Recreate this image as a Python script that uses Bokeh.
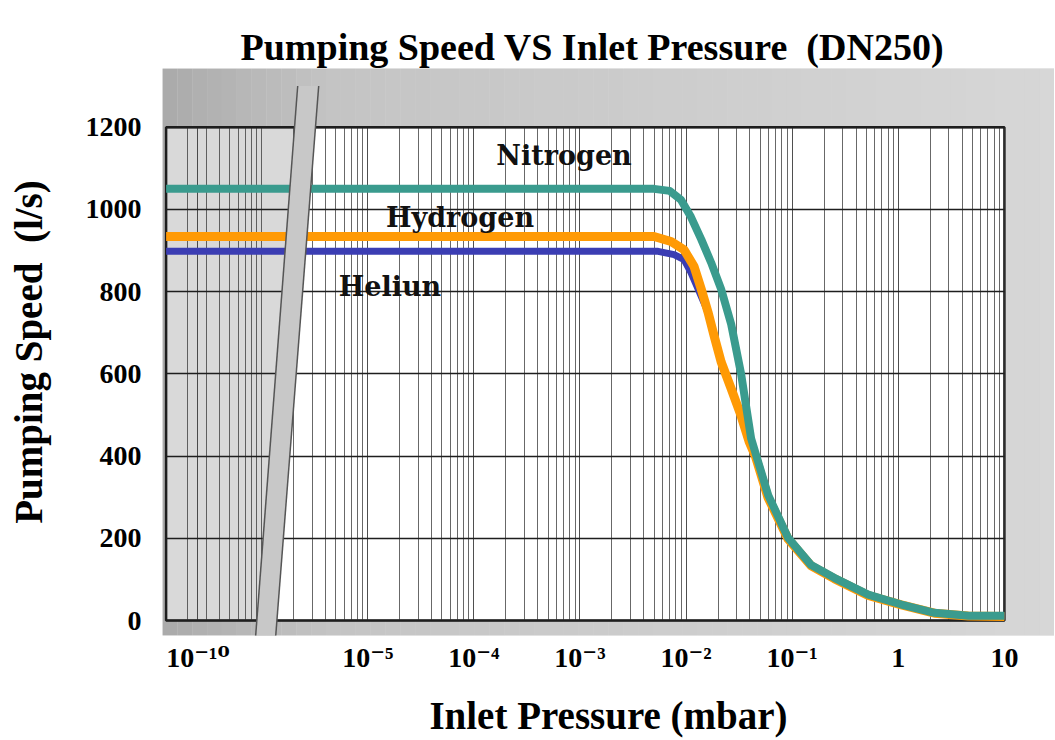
import numpy as np
from bokeh.plotting import figure
from bokeh.models import Range1d, FixedTicker, CustomJSTickFormatter, Label
from bokeh.embed import file_html
from bokeh.resources import INLINE

# ---------------- data ----------------
n2_pressure = [1e-12, 1e-10, 1e-5, 1e-4, 1e-3, 5e-3, 7e-3, 8.97e-3, 1.11e-2, 1.39e-2, 1.72e-2,
               2.14e-2, 2.66e-2, 3.30e-2, 4.10e-2, 5.94e-2, 9.17e-2, 0.151, 0.249, 0.521, 1.07,
               2.19, 4.57, 10]
n2_speed = [1050, 1050, 1050, 1050, 1050, 1050, 1045, 1023, 982, 927, 871,
            806, 721, 600, 443, 305, 201, 135, 104, 63, 39,
            19, 12, 12]

h2_pressure = [1e-12, 1e-10, 1e-5, 1e-4, 1e-3, 4.99e-3, 7.22e-3, 9.57e-3, 1.19e-2, 1.39e-2,
               1.61e-2, 1.84e-2, 2.14e-2, 2.66e-2, 3.30e-2, 3.93e-2, 4.5e-2, 5.9e-2, 9.17e-2,
               0.151, 0.249, 0.521, 1.07, 2.19, 4.57, 10]
h2_speed = [934, 934, 934, 934, 934, 934, 922, 902, 861, 806,
            750, 692, 629, 564, 498, 435, 400, 300, 198,
            133, 102, 61, 38, 18, 11, 10]

he_pressure = [1e-12, 1e-10, 1e-5, 1e-4, 1e-3, 5.45e-3, 7.71e-3, 9.57e-3, 1.11e-2, 1.30e-2,
               1.61e-2, 1.84e-2, 2.14e-2, 2.66e-2, 3.30e-2, 3.93e-2, 4.5e-2, 5.9e-2, 9.17e-2,
               0.151, 0.249, 0.521, 1.07, 2.19, 4.57, 10]
he_speed = [898, 898, 898, 898, 898, 898, 890, 878, 847, 806,
            750, 692, 629, 564, 498, 435, 400, 300, 198,
            133, 102, 61, 38, 18, 11, 10]

x_tick_pressures = [1e-10, 1e-5, 1e-4, 1e-3, 1e-2, 1e-1, 1, 10]
x_tick_labels = ["10\u207b\u00b9\u2070", "10\u207b\u2075", "10\u207b\u2074", "10\u207b\u00b3",
                 "10\u207b\u00b2", "10\u207b\u00b9", "1", "10"]
y_ticks = [0, 200, 400, 600, 800, 1000, 1200]

series_names = ["Nitrogen", "Hydrogen", "Heliun"]

P_MIN, P_MAX = 1e-12, 10
S_MIN, S_MAX = 0, 1200

# broken axis: below 1e-6 the decades are squeezed
BREAK_LOG = -6.0
SQUEEZE = 0.15


def axis_x(p):
    lp = np.log10(np.asarray(p, dtype=float))
    return 10 ** np.where(lp < BREAK_LOG, BREAK_LOG + (lp - BREAK_LOG) * SQUEEZE, lp)


# ---------------- figure ----------------
X_LO_LOG, X_HI_LOG = -6.934, 1.472
Y_LO, Y_HI = -36.3, 1342.7

p = figure(width=1054, height=739, x_axis_type="log", output_backend="svg",
           toolbar_location=None,
           x_range=Range1d(10 ** X_LO_LOG, 10 ** X_HI_LOG), y_range=Range1d(Y_LO, Y_HI),
           min_border_left=162, min_border_right=0, min_border_top=68, min_border_bottom=101)
p.background_fill_color = "#d4d4d4"
p.border_fill_color = "white"
p.outline_line_color = None

# scanned-paper grey: darker on the left, lighter towards the right
n_strips = 60
edges = np.linspace(X_LO_LOG, X_HI_LOG, n_strips + 1)
cols = []
for i in range(n_strips):
    t = (i + 0.5) / n_strips
    if t < 0.19:
        g = 170 + (196 - 170) * t / 0.19
    else:
        g = 196 + (215 - 196) * (t - 0.19) / 0.81
    g = int(round(g))
    cols.append("#%02x%02x%02x" % (g, g, g))
bg = p.quad(left=10 ** edges[:-1], right=10 ** edges[1:], bottom=Y_LO, top=Y_HI,
            fill_color=cols, line_color=None)
bg.level = "image"

xl, xr = axis_x([P_MIN, P_MAX])

# plot area
area = p.quad(left=[xl], right=[xr], bottom=[S_MIN], top=[S_MAX],
              fill_color="white", line_color=None)
area.level = "image"

# break band (display log coordinates)
band_y = [-40, 1300]
band_left_log = [-6.057, -5.660]
band_right_log = [-5.868, -5.462]


def band_left_at(y):
    t = (y - band_y[0]) / (band_y[1] - band_y[0])
    return 10 ** (band_left_log[0] + t * (band_left_log[1] - band_left_log[0]))


shade = p.patch(x=[xl, band_left_at(S_MIN), band_left_at(S_MAX), xl],
                y=[S_MIN, S_MIN, S_MAX, S_MAX], fill_color="#d9d9d9", line_color=None)
shade.level = "image"

frame = p.quad(left=[xl], right=[xr], bottom=[S_MIN], top=[S_MAX],
               fill_color=None, line_color="#1e1e1e", line_width=2.5)
frame.level = "image"

# grids
minor = []
for d in range(-7, 1):
    for k in range(1, 10):
        v = k * 10.0 ** d
        if k == 1 and d != -6:
            continue
        if np.log10(v) > np.log10(xl) and v < xr:
            minor.append(v)

major_vals = [float(v) for v in axis_x(x_tick_pressures)]
p.xaxis.ticker = FixedTicker(ticks=major_vals, minor_ticks=minor)
p.yaxis.ticker = FixedTicker(ticks=y_ticks)

p.xgrid.bounds = (float(xl), float(xr))
p.xgrid.cross_bounds = (S_MIN, S_MAX)
p.xgrid.grid_line_color = "#303030"
p.xgrid.grid_line_alpha = 0.85
p.xgrid.minor_grid_line_color = "#353535"
p.xgrid.minor_grid_line_alpha = 0.75
p.ygrid.bounds = (S_MIN, S_MAX)
p.ygrid.cross_bounds = (float(xl), float(xr))
p.ygrid.grid_line_color = "#1e1e1e"
p.ygrid.grid_line_width = 1.5

# curves
p.line(axis_x(he_pressure), he_speed, line_color="#3b3db3", line_width=7, line_join="round")
p.line(axis_x(h2_pressure), h2_speed, line_color="#ff9a05", line_width=9, line_join="round")
p.line(axis_x(n2_pressure), n2_speed, line_color="#3a9b8e", line_width=8, line_join="round")

# break band drawn over the curves
bx = [10 ** band_left_log[0], 10 ** band_right_log[0], 10 ** band_right_log[1], 10 ** band_left_log[1]]
by = [band_y[0], band_y[0], band_y[1], band_y[1]]
p.patch(x=bx, y=by, fill_color="#c8c8c8", line_color=None)
p.line([10 ** band_left_log[0], 10 ** band_left_log[1]], band_y, line_color="#555555", line_width=1.5)
p.line([10 ** band_right_log[0], 10 ** band_right_log[1]], band_y, line_color="#555555", line_width=1.5)

# series labels
for txt, lx, ly in zip(series_names, [-3.15, -4.13, -4.79], [1130, 980, 812]):
    p.add_layout(Label(x=10 ** lx, y=ly, text=txt, text_align="center", text_baseline="middle",
                       text_font="DejaVu Serif", text_font_style="bold",
                       text_font_size="27px", text_color="#111111"))

# axes
p.xaxis.formatter = CustomJSTickFormatter(
    args=dict(vals=major_vals, labels=x_tick_labels),
    code="""
let best = 0, d = Infinity;
for (let i = 0; i < vals.length; i++) {
  const e = Math.abs(Math.log10(tick) - Math.log10(vals[i]));
  if (e < d) { d = e; best = i; }
}
return labels[best];
""")

for ax in (p.xaxis[0], p.yaxis[0]):
    ax.axis_line_color = None
    ax.major_tick_line_color = None
    ax.minor_tick_line_color = None
    ax.major_tick_out = 0
    ax.major_tick_in = 0
    ax.minor_tick_out = 0
    ax.minor_tick_in = 0
    ax.major_label_text_font = "Liberation Serif, DejaVu Serif"
    ax.major_label_text_font_style = "bold"
    ax.major_label_text_font_size = "28px"
    ax.major_label_text_color = "black"
    ax.axis_label_text_font = "Liberation Serif"
    ax.axis_label_text_font_style = "bold"
    ax.axis_label_text_font_size = "39px"
    ax.axis_label_text_color = "black"

p.xaxis.axis_label = "Inlet Pressure (mbar)"
p.xaxis.major_label_standoff = 6
p.xaxis.axis_label_standoff = 18
p.yaxis.axis_label = "Pumping Speed\u00a0 (l/s)"
p.yaxis.major_label_standoff = 21
p.yaxis.axis_label_standoff = 33

p.title.text = "Pumping Speed VS Inlet Pressure\u00a0 (DN250)"
p.title.text_font = "Liberation Serif"
p.title.text_font_style = "bold"
p.title.text_font_size = "38px"
p.title.text_color = "black"
p.title.align = "left"
p.title.offset = 78
p.title.standoff = 2

open("out.html", "w").write(file_html(p, INLINE))
